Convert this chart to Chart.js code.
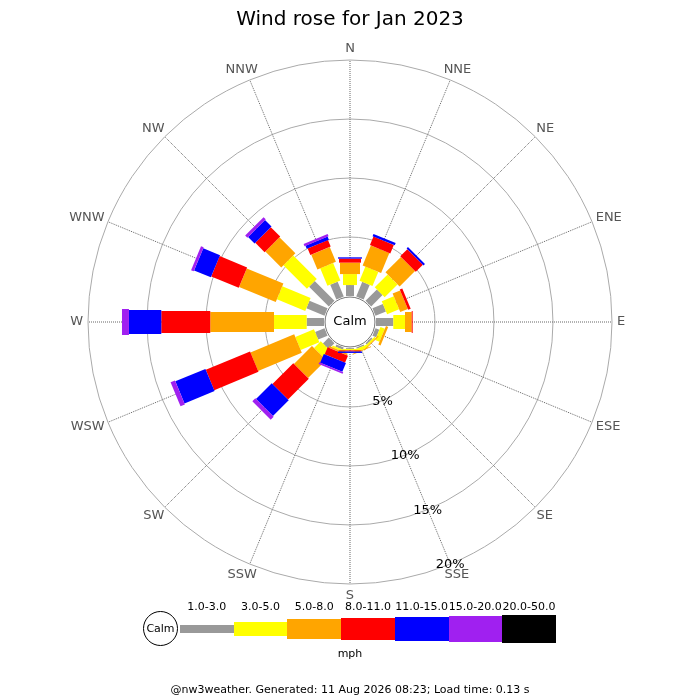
<!DOCTYPE html>
<html>
<head>
<meta charset="utf-8">
<title>Wind rose for Jan 2023</title>
<script src="https://cdn.jsdelivr.net/npm/chart.js@4/dist/chart.umd.min.js"></script>
<style>
  body { margin: 0; background: #fff; font-family: "DejaVu Sans", sans-serif; }
  #wrap { position: relative; width: 700px; height: 700px; overflow: hidden; }
  #chart { position: absolute; left: 0; top: 0; }
  .lab { position: absolute; font-size: 11px; color: #000; text-align: center; width: 80px; }
  .seg { position: absolute; }
  #calm { position: absolute; left: 143px; top: 611px; width: 35px; height: 35px; border: 1px solid #000;
          border-radius: 50%; box-sizing: border-box; font-size: 11px; line-height: 33px; text-align: center; background: #fff; }
  #foot { position: absolute; left: 0; width: 700px; top: 683px; text-align: center; font-size: 11px; color: #000; }
</style>
</head>
<body>
<div id="wrap">
  <canvas id="chart" width="700" height="700"></canvas>
  <div id="legend"></div>
  <div id="foot">@nw3weather. Generated: 11 Aug 2026 08:23; Load time: 0.13 s</div>
</div>
<script>
// directions, clockwise from north
const directions = ['N', 'NNE', 'NE', 'ENE', 'E', 'ESE', 'SE', 'SSE',
                    'S', 'SSW', 'SW', 'WSW', 'W', 'WNW', 'NW', 'NNW'];

// % of time in each speed band (mph), per direction
const band1to3   = [0.93, 1.34, 1.36, 0.96, 1.47, 0.35, 0.15, 0.12, 0.08, 0.20, 0.71, 0.86, 1.47, 1.66, 2.37, 1.36];
const band3to5   = [0.93, 1.30, 1.54, 1.10, 0.99, 0.40, 0.15, 0.26, 0.09, 0.15, 0.80, 1.71, 2.77, 2.60, 2.82, 1.61];
const band5to8   = [0.97, 1.83, 1.85, 0.69, 0.57, 0.20, 0.08, 0.07, 0.04, 0.15, 2.16, 4.01, 5.40, 3.36, 1.91, 1.36];
const band8to11  = [0.34, 0.78, 0.85, 0.23, 0.08, 0.00, 0.00, 0.00, 0.09, 0.65, 2.49, 4.06, 4.15, 2.52, 1.12, 0.60];
const band11to15 = [0.11, 0.21, 0.16, 0.00, 0.00, 0.00, 0.00, 0.00, 0.12, 0.80, 1.89, 2.76, 2.74, 1.54, 0.78, 0.28];
const band15to20 = [0.00, 0.00, 0.00, 0.00, 0.00, 0.00, 0.00, 0.00, 0.00, 0.15, 0.35, 0.40, 0.59, 0.24, 0.26, 0.20];
const band20to50 = [0.00, 0.00, 0.00, 0.00, 0.00, 0.00, 0.00, 0.00, 0.00, 0.00, 0.00, 0.00, 0.00, 0.00, 0.00, 0.00];

const bandLabels = ['1.0-3.0', '3.0-5.0', '5.0-8.0', '8.0-11.0', '11.0-15.0', '15.0-20.0', '20.0-50.0'];
const ringTicks = [5, 10, 15, 20];

// styling
const bandColors = ['#999999', '#ffff00', '#ffa500', '#ff0000', '#0000ff', '#a020f0', '#000000'];
const bandWidths = [8, 14, 20, 22, 24, 26, 28];

const bands = [band1to3, band3to5, band5to8, band8to11, band11to15, band15to20, band20to50];

// stack the bands so each dataset holds the outer edge of its segment
function stackBands()
{
  const out = [];
  let run = directions.map(() => 0);
  bands.forEach(b =>
  {
    run = run.map((v, i) => +(v + b[i]).toFixed(2));
    out.push(run);
  });
  return out;
}

// draws each segment as a bar between the previous band's point and this band's point
const roseBars = {
  id: 'roseBars',
  afterDatasetsDraw(chart)
  {
    const ctx = chart.ctx;
    const r = chart.scales.r;
    const cx = r.xCenter, cy = r.yCenter;
    const base = r.getDistanceFromCenterForValue(0);

    chart.data.datasets.forEach((ds, k) =>
    {
      const meta = chart.getDatasetMeta(k);
      const prev = k > 0 ? chart.getDatasetMeta(k - 1) : null;
      meta.data.forEach((pt, i) =>
      {
        const outer = Math.hypot(pt.x - cx, pt.y - cy);
        const inner = prev ? Math.hypot(prev.data[i].x - cx, prev.data[i].y - cy) : base;
        if (outer - inner < 0.05) return;
        const w = bandWidths[k];
        ctx.save();
        ctx.translate(cx, cy);
        ctx.rotate(r.getIndexAngle(i) - Math.PI / 2);
        ctx.fillStyle = ds.backgroundColor;
        ctx.fillRect(inner, -w / 2, outer - inner, w);
        ctx.restore();
      });
    });

    ctx.save();
    ctx.textAlign = 'center';
    ctx.textBaseline = 'middle';

    // compass labels just outside the outer ring, pushed out by half their size
    ctx.font = '13px "DejaVu Sans"';
    ctx.fillStyle = '#555';
    chart.data.labels.forEach((lab, i) =>
    {
      const a = r.getIndexAngle(i) - Math.PI / 2;
      const p = r.getPointPosition(i, r.drawingArea + 5);
      const w = ctx.measureText(lab).width;
      ctx.fillText(lab, p.x + Math.cos(a) * w / 2, p.y + Math.sin(a) * 6.5);
    });

    // calm circle
    ctx.beginPath();
    ctx.arc(cx, cy, base - 1, 0, Math.PI * 2);
    ctx.fillStyle = '#fff';
    ctx.fill();
    ctx.strokeStyle = '#777';
    ctx.lineWidth = 1;
    ctx.stroke();
    ctx.fillStyle = '#000';
    ctx.fillText('Calm', cx, cy);

    // ring labels along the SSE spoke
    ringTicks.forEach(v =>
    {
      const p = r.getPointPosition(7, r.getDistanceFromCenterForValue(v));
      ctx.fillText(v + '%', p.x, p.y + 1);
    });
    ctx.restore();
  }
};

function buildLegend()
{
  const box = document.getElementById('legend');
  let html = '<div id="calm">Calm</div>';
  const segLen = 53.7;
  bandLabels.forEach((lab, k) =>
  {
    const left = 180 + k * segLen;
    const h = bandWidths[k];
    html += '<div class="seg" style="left:' + left + 'px;top:' + (629 - h / 2) + 'px;width:' + (segLen + 0.5) +
            'px;height:' + h + 'px;background:' + bandColors[k] + '"></div>';
    html += '<div class="lab" style="left:' + (left + segLen / 2 - 40) + 'px;top:600px">' + lab + '</div>';
  });
  html += '<div class="lab" style="left:310px;top:647px">mph</div>';
  box.innerHTML = html;
}

function chartIt()
{
  const stacked = stackBands();
  const ctx = document.getElementById('chart').getContext('2d');
  const myChart = new Chart(ctx, {
    type: 'radar',
    data: {
      labels: directions,
      datasets: stacked.map((d, k) => ({
        label: bandLabels[k],
        data: d,
        fill: false,
        showLine: false,
        pointRadius: 0,
        pointHoverRadius: 0,
        borderWidth: 0,
        backgroundColor: bandColors[k],
        borderColor: bandColors[k]
      }))
    },
    options: {
      responsive: false,
      animation: false,
      layout: { padding: { bottom: 116 } },
      plugins: {
        legend: { display: false },
        tooltip: { enabled: false },
        title: {
          display: true,
          text: 'Wind rose for Jan 2023',
          color: '#000',
          font: { family: 'DejaVu Sans', size: 20, weight: 'normal' },
          padding: { top: 8, bottom: 28 }
        }
      },
      scales: {
        r: {
          min: -2.2,
          max: 20,
          afterBuildTicks: scale => { scale.ticks = ringTicks.map(v => ({ value: v })); },
          ticks: { display: false },
          grid: { circular: true, color: '#aaaaaa', lineWidth: 1 },
          angleLines: { color: '#666', lineWidth: 1, borderDash: [1, 1] },
          pointLabels: { display: false }
        }
      }
    },
    plugins: [roseBars]
  });
}

buildLegend();
chartIt();
</script>
</body>
</html>
